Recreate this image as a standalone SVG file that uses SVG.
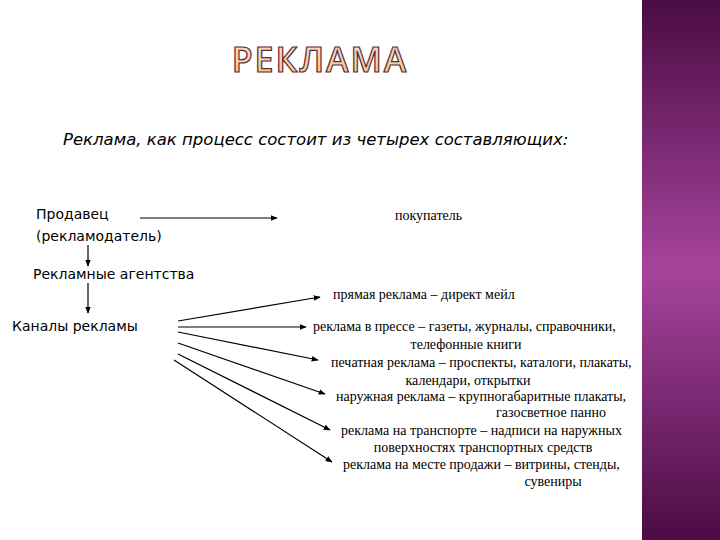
<svg xmlns="http://www.w3.org/2000/svg" width="720" height="540" viewBox="0 0 720 540">
<defs>
<linearGradient id="bar" x1="0" y1="0" x2="0" y2="1">
<stop offset="0" stop-color="#4a0c44"/><stop offset="0.5" stop-color="#a6449c"/><stop offset="1" stop-color="#4a0c44"/>
</linearGradient>
<linearGradient id="tg" x1="0" y1="0" x2="0" y2="1">
<stop offset="0" stop-color="#fbe0e6"/><stop offset="1" stop-color="#f4c860"/>
</linearGradient>
<marker id="ar" viewBox="0 0 10 10" refX="9" refY="5" markerWidth="7" markerHeight="7" orient="auto" markerUnits="userSpaceOnUse"><path d="M0,1 L10,5 L0,9 Z" fill="#000"/></marker>
<style>
.s{font-family:"DejaVu Sans",sans-serif;font-size:14px;fill:#000}
.r{font-family:"Liberation Serif",serif;font-size:14px;fill:#000}
.l{stroke:#000;stroke-width:1.2;fill:none;marker-end:url(#ar)}
</style>
</defs>
<rect width="720" height="540" fill="#fff"/>
<rect x="642" y="0" width="78" height="540" fill="url(#bar)"/>
<text x="320" y="72" text-anchor="middle" font-family="Open Sans,sans-serif" font-size="34" font-weight="600" fill="url(#tg)" stroke="#5a2a40" stroke-width="1.2" letter-spacing="2">РЕКЛАМА</text>
<text x="63" y="145" font-family="DejaVu Sans,sans-serif" font-size="16.5" font-style="italic">Реклама, как процесс состоит из четырех составляющих:</text>
<g id="seller"><text class="s" x="36" y="219">Продавец</text><text class="s" x="36" y="241">(рекламодатель)</text></g>
<g id="buyer"><text class="r" x="395" y="220">покупатель</text></g>
<g id="agency"><text class="s" x="33" y="279">Рекламные агентства</text></g>
<g id="channels"><text class="s" x="12" y="331">Каналы рекламы</text></g>
<g id="types">
<text class="r" x="333" y="299">прямая реклама – директ мейл</text>
<text class="r" x="313" y="331">реклама в прессе – газеты, журналы, справочники,</text>
<text class="r" x="466" y="349" text-anchor="middle">телефонные книги</text>
<text class="r" x="331" y="367">печатная реклама – проспекты, каталоги, плакаты,</text>
<text class="r" x="468" y="385" text-anchor="middle">календари, открытки</text>
<text class="r" x="336" y="401">наружная реклама – крупногабаритные плакаты,</text>
<text class="r" x="551" y="417" text-anchor="middle">газосветное панно</text>
<text class="r" x="341" y="435">реклама на транспорте – надписи на наружных</text>
<text class="r" x="483" y="452" text-anchor="middle">поверхностях транспортных средств</text>
<text class="r" x="343" y="469">реклама на месте продажи – витрины, стенды,</text>
<text class="r" x="553" y="486" text-anchor="middle">сувениры</text>
</g>
<g id="connectors">
<line class="l" x1="140" y1="218" x2="277" y2="218"/>
<line class="l" x1="88" y1="245" x2="88" y2="266"/>
<line class="l" x1="88" y1="283" x2="88" y2="313"/>
<line class="l" x1="178" y1="321" x2="320" y2="297"/>
<line class="l" x1="178" y1="327" x2="306" y2="327" stroke-width="2"/>
<line class="l" x1="178" y1="332" x2="318" y2="360"/>
<line class="l" x1="178" y1="343" x2="325" y2="394"/>
<line class="l" x1="178" y1="354" x2="330" y2="430"/>
<line class="l" x1="174" y1="360" x2="332" y2="462"/>
</g>
</svg>
